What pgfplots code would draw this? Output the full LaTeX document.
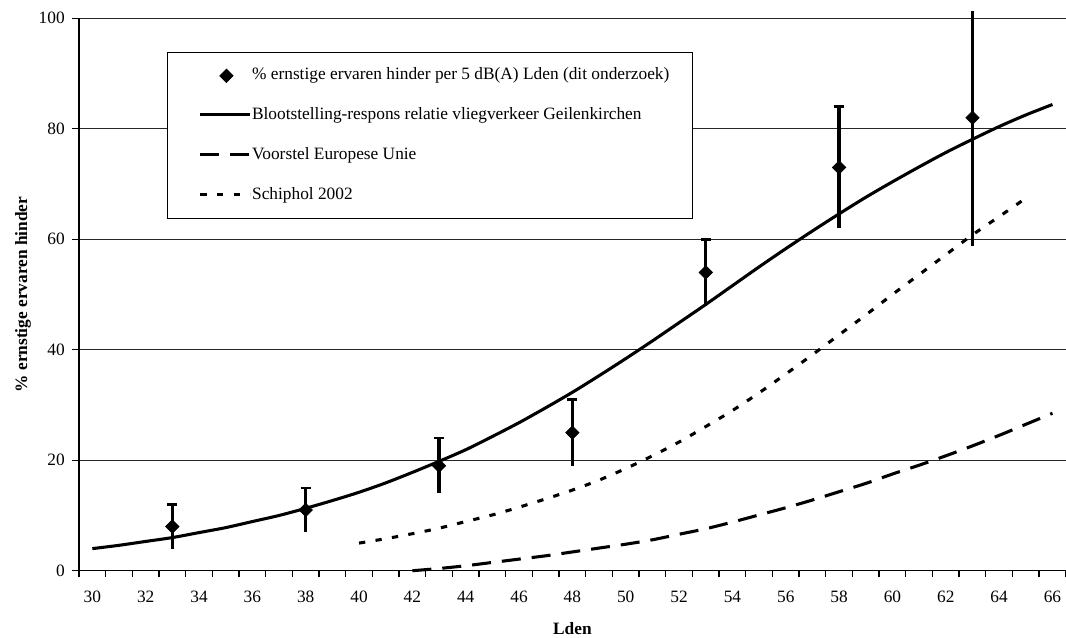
\documentclass[border=0pt]{standalone}
\usepackage{fontspec}
\setmainfont{Liberation Serif}
\usepackage{pgfplots}
\usepackage{pgfplotstable}
\pgfplotsset{compat=1.18}

% observed share of severe annoyance per 5 dB(A) class, with error margins
% (the upper margin of the last class is cut off at the top of the chart)
\pgfplotstableread{
x  y   ep    em
33 8   4     4
38 11  4     4
43 19  5     5
48 25  6     6
53 54  6     6
58 73  11    11
63 82  19.3  23.2
}\obs

% exposure-response relation, Geilenkirchen
\pgfplotstableread{
x  y
30 4.0
31 4.6
32 5.3
33 6.0
34 6.9
35 7.8
36 8.9
37 10.0
38 11.3
39 12.7
40 14.2
41 15.9
42 17.8
43 19.8
44 21.9
45 24.3
46 26.8
47 29.5
48 32.3
49 35.3
50 38.4
51 41.6
52 44.9
53 48.2
54 51.6
55 55.0
56 58.3
57 61.5
58 64.6
59 67.6
60 70.4
61 73.1
62 75.7
63 78.1
64 80.4
65 82.5
66 84.4
}\geil

% proposal European Union
\pgfplotstableread{
x  y
42 0.0
43 0.4
44 0.9
45 1.5
46 2.1
47 2.7
48 3.4
49 4.1
50 4.8
51 5.6
52 6.6
53 7.6
54 8.8
55 10.1
56 11.4
57 12.8
58 14.3
59 15.8
60 17.5
61 19.1
62 20.8
63 22.6
64 24.5
65 26.5
66 28.5
}\eu

% Schiphol 2002
\pgfplotstableread{
x     y
40    5.0
41    5.8
42    6.7
43    7.7
44    8.9
45    10.1
46    11.5
47    13.0
48    14.6
49    16.4
50    18.5
51    20.8
52    23.3
53    26.1
54    29.0
55    32.2
56    35.6
57    39.1
58    42.7
59    46.3
60    50.0
61    53.6
62    57.2
63    60.8
64    64.1
64.87 67.0
}\schiphol

\newcommand{\chartfont}{\fontsize{13}{15.6}\selectfont}
% fixed-size cell for the legend keys (not drawn)
\newcommand{\keycell}{%
  \pgfpathrectangle{\pgfpoint{0pt}{-4pt}}{\pgfpoint{62pt}{8pt}}%
  \pgfusepath{use as bounding box}}

\pgfplotsset{
  curve key/.style={legend image code/.code={
    \keycell
    \draw[##1] (24.5pt,1pt) -- (62pt,1pt);}},
  point key/.style={legend image code/.code={
    \keycell
    \draw[##1] plot coordinates {(44pt,0pt)};}},
}

\begin{document}
\begin{tikzpicture}
\begin{axis}[
  at={(0pt,0pt)}, anchor=south west,
  scale only axis, width=740.1pt, height=414.3pt,
  xmin=29.5, xmax=66.5, ymin=0, ymax=100,
  clip=false,
  axis x line*=bottom, axis y line*=left,
  x axis line style={-, black, line width=1pt},
  y axis line style={-, black, line width=1pt},
  tick align=outside,
  xtick={30,32,...,66},
  minor xtick={29.5,30.5,...,66.5},
  ytick={0,20,...,100},
  major tick length=5.25pt, minor tick length=4.5pt,
  major x tick style={draw=none},
  minor x tick style={black, line width=1pt},
  major y tick style={black, line width=1pt},
  ymajorgrids, major grid style={black!85, line width=0.75pt},
  /pgf/number format/assume math mode=true,
  tick label style={font=\chartfont},
  xticklabel style={anchor=base, yshift=-18.95pt},
  yticklabel style={anchor=east, inner xsep=0pt, xshift=-5.25pt},
  xlabel={Lden},
  every axis x label/.style={at={(rel axis cs:0.5,0)}, anchor=center,
    yshift=-43.35pt, font=\bfseries\chartfont},
  ylabel={\% ernstige ervaren hinder},
  every axis y label/.style={at={(rel axis cs:0,0.5)}, anchor=center,
    rotate=90, yshift=42pt, font=\bfseries\chartfont},
  legend style={at={(rel axis cs:0.08946,0.93845)}, anchor=north west,
    draw=black, line width=0.75pt, fill=white,
    inner xsep=0pt, inner ysep=2.25pt, row sep=0pt, column sep=1.25pt,
    font=\chartfont, cells={anchor=west},
    nodes={inner sep=0pt, minimum height=30pt, text height=9pt, text depth=3pt}},
  legend cell align=left,
  curve key,
]

% error margins: lower parts without caps
\addplot[forget plot, only marks, mark=none,
  error bars/.cd, y dir=minus, y explicit, error mark=none,
  error bar style={black, line width=2.6pt}]
  table[x=x, y=y, y error minus=em] {\obs};
% upper parts with a cap
\addplot[forget plot, only marks, mark=none, restrict x to domain=30:60,
  error bars/.cd, y dir=plus, y explicit, error mark=|,
  error bar style={black, line width=2.6pt},
  error mark options={black, line width=2pt, mark size=3.75pt}]
  table[x=x, y=y, y error plus=ep] {\obs};
% upper part of the last class, running out of the chart
\addplot[forget plot, only marks, mark=none, restrict x to domain=62:64,
  error bars/.cd, y dir=plus, y explicit, error mark=none,
  error bar style={black, line width=2.6pt}]
  table[x=x, y=y, y error plus=ep] {\obs};

\addplot[only marks, mark=square*, mark size=3.55pt,
  mark options={rotate=45, black, fill=black, line width=0.5pt}, point key]
  table[x=x, y=y] {\obs};
\addlegendentry{\% ernstige ervaren hinder per 5 dB(A) Lden (dit onderzoek)\hspace*{17.5pt}}

\addplot[black, line width=2.3pt, smooth, mark=none] table[x=x, y=y] {\geil};
\addlegendentry{Blootstelling-respons relatie vliegverkeer Geilenkirchen}

\addplot[black, line width=2.3pt, smooth, mark=none,
  dash pattern=on 14.25pt off 8.25pt] table[x=x, y=y] {\eu};
\addlegendentry{Voorstel Europese Unie}

\addplot[black, line width=2.3pt, smooth, mark=none,
  dash pattern=on 4.7pt off 7.8pt] table[x=x, y=y] {\schiphol};
\addlegendentry{Schiphol 2002}

\end{axis}
\pgfresetboundingbox
\path[use as bounding box] (-59.25pt,-49.73pt) rectangle (740.25pt,428.03pt);
\end{tikzpicture}
\end{document}
